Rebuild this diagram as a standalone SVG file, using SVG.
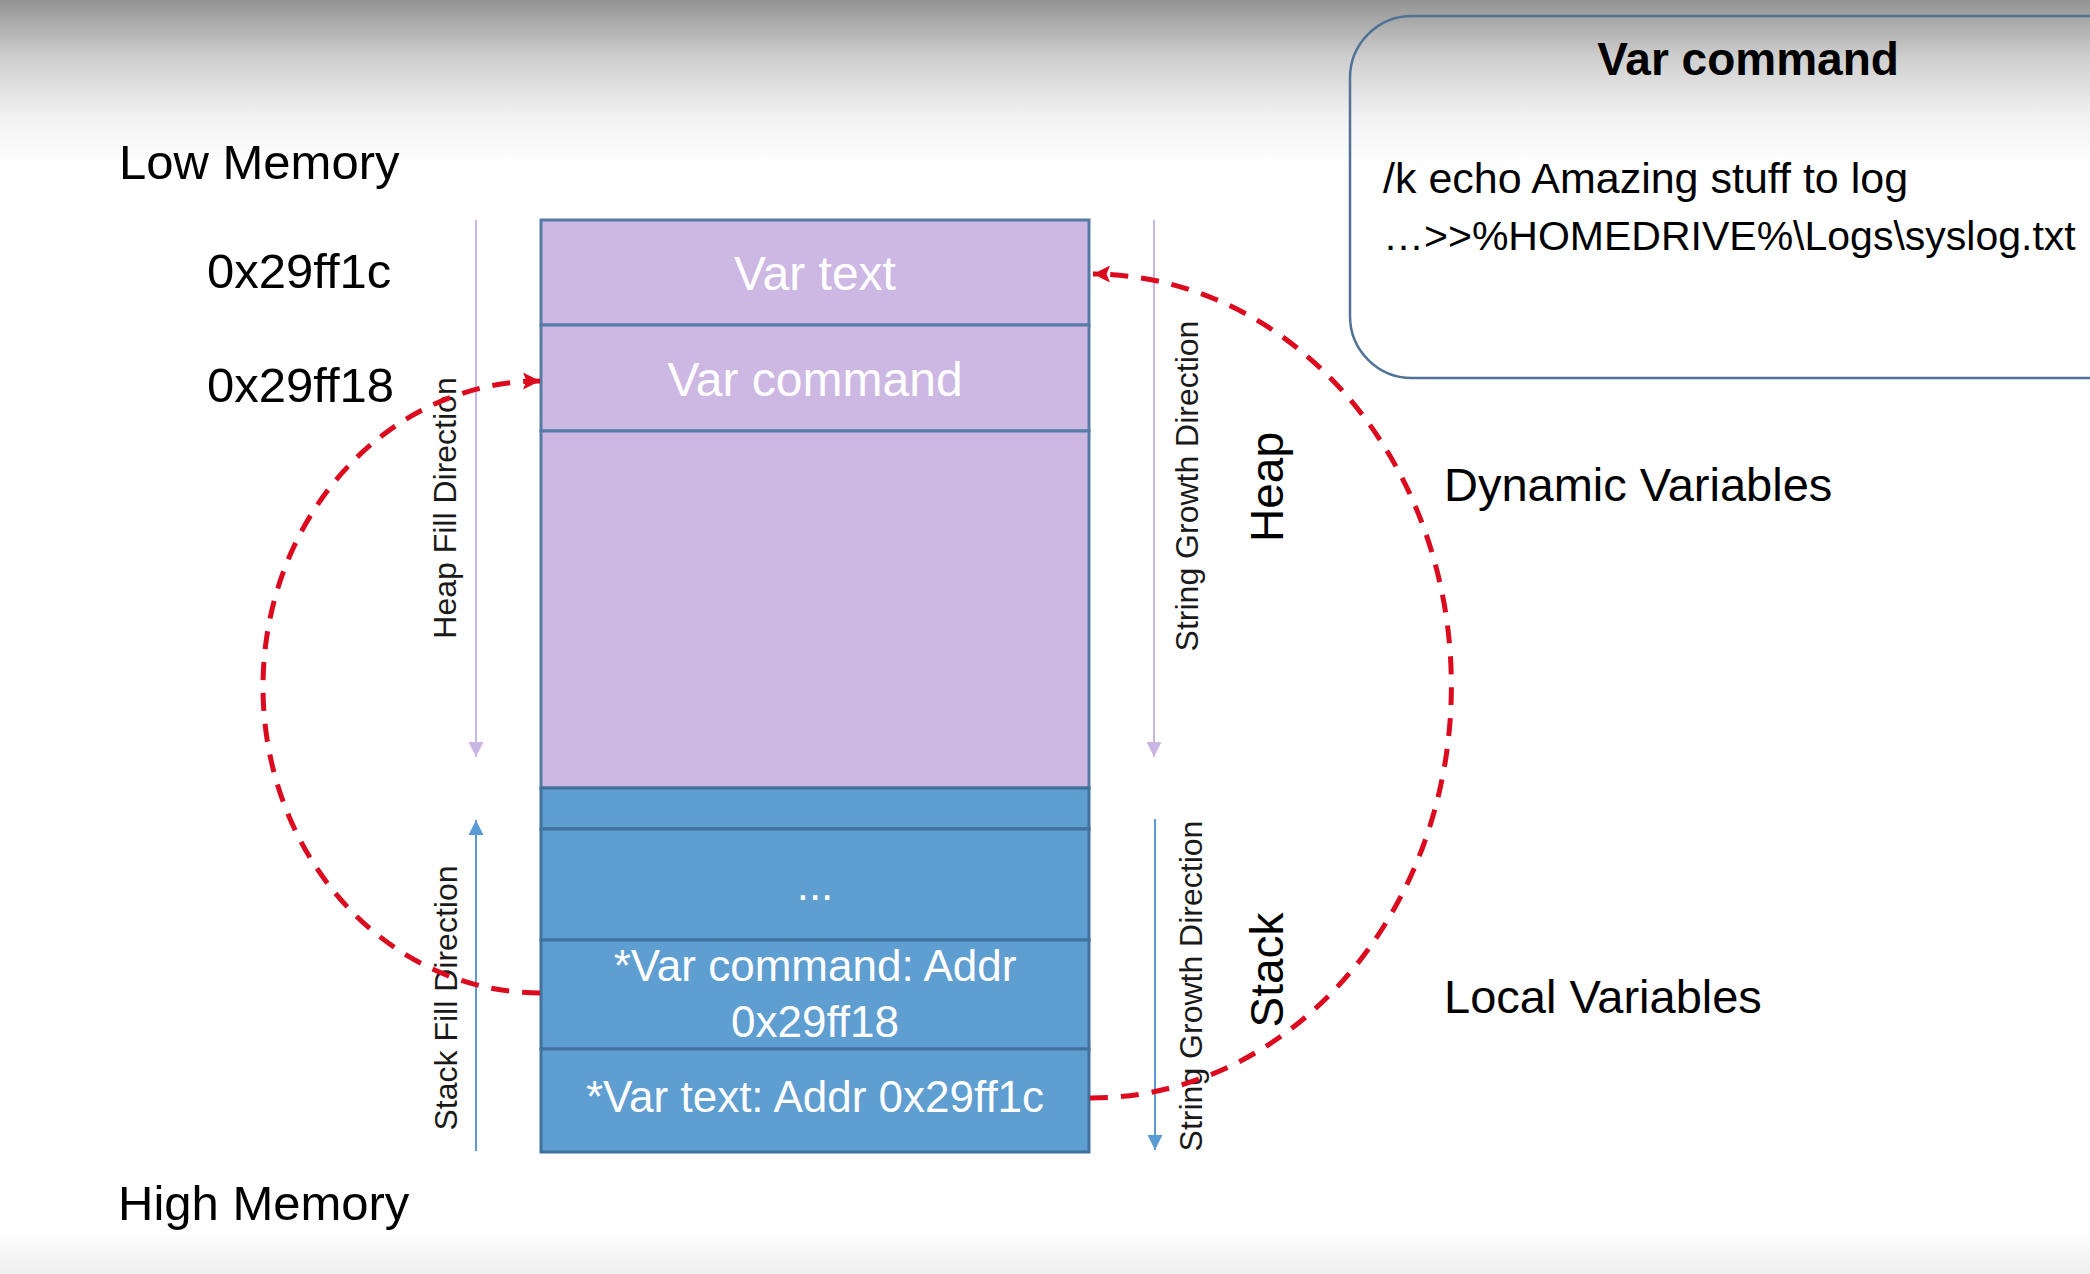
<svg xmlns="http://www.w3.org/2000/svg" width="2090" height="1274" viewBox="0 0 2090 1274">
  <defs>
    <linearGradient id="topbg" x1="0" y1="0" x2="0" y2="1">
      <stop offset="0" stop-color="#939393"/>
      <stop offset="0.35" stop-color="#cfcfcf"/>
      <stop offset="0.7" stop-color="#f1f1f1"/>
      <stop offset="1" stop-color="#ffffff"/>
    </linearGradient>
    <linearGradient id="botbg" x1="0" y1="0" x2="0" y2="1">
      <stop offset="0" stop-color="#ffffff"/>
      <stop offset="1" stop-color="#efefef"/>
    </linearGradient>
    <marker id="redhead" viewBox="0 0 10 10" refX="10" refY="5" markerWidth="17" markerHeight="17" markerUnits="userSpaceOnUse" orient="auto">
      <path d="M0,0 L10,5 L0,10 L2,5 z" fill="#dc0a1e"/>
    </marker>
    <marker id="lavhead" viewBox="0 0 10 10" refX="10" refY="5" markerWidth="15" markerHeight="16" markerUnits="userSpaceOnUse" orient="auto">
      <path d="M0,0 L10,5 L0,10 z" fill="#c9b6e3"/>
    </marker>
    <marker id="bluehead" viewBox="0 0 10 10" refX="10" refY="5" markerWidth="15" markerHeight="16" markerUnits="userSpaceOnUse" orient="auto">
      <path d="M0,0 L10,5 L0,10 z" fill="#5b9bd5"/>
    </marker>
  </defs>
  <style>
    .lbl { font-family: "Liberation Sans", Arial, sans-serif; fill: #000000; }
    .big { font-size: 49px; }
    .side { font-size: 47px; }
    .cell { font-family: "Liberation Sans", Arial, sans-serif; fill: #ffffff; text-anchor: middle; }
    .rot { font-family: "Liberation Sans", Arial, sans-serif; font-size: 32px; fill: #1a1a1a; text-anchor: middle; }
    .rotbig { font-family: "Liberation Sans", Arial, sans-serif; font-size: 46px; fill: #000000; text-anchor: middle; }
    .heap { fill: #cdb7e3; stroke: #557aa5; stroke-width: 3; }
    .stack { fill: #5f9ed1; stroke: #41719c; stroke-width: 3; }
    .lav { stroke: #c9b6e3; stroke-width: 2; fill: none; }
    .blu { stroke: #5b9bd5; stroke-width: 2; fill: none; }
    .dash { stroke: #dc0a1e; stroke-width: 5; fill: none; stroke-dasharray: 18 13; }
  </style>

  <rect x="0" y="0" width="2090" height="1274" fill="#ffffff"/>
  <rect x="0" y="0" width="2090" height="165" fill="url(#topbg)"/>
  <rect x="0" y="1230" width="2090" height="44" fill="url(#botbg)"/>

  <g id="memory-labels">
    <text class="lbl big" x="119" y="179">Low Memory</text>
    <text class="lbl big" x="118" y="1220">High Memory</text>
    <text class="lbl big" x="207" y="288" font-size="48">0x29ff1c</text>
    <text class="lbl big" x="207" y="402" font-size="48">0x29ff18</text>
  </g>

  <g id="heap-var-text">
    <rect class="heap" x="541" y="220" width="548" height="105"/>
    <text class="cell" x="815" y="290" font-size="48">Var text</text>
  </g>
  <g id="heap-var-command">
    <rect class="heap" x="541" y="325" width="548" height="106"/>
    <text class="cell" x="815" y="396" font-size="48">Var command</text>
  </g>
  <g id="heap-free">
    <rect class="heap" x="541" y="431" width="548" height="357"/>
  </g>
  <g id="stack-top">
    <rect class="stack" x="541" y="788" width="548" height="41"/>
  </g>
  <g id="stack-ellipsis">
    <rect class="stack" x="541" y="829" width="548" height="111"/>
    <text class="cell" x="815" y="900" font-size="44">...</text>
  </g>
  <g id="stack-ptr-command">
    <rect class="stack" x="541" y="940" width="548" height="109"/>
    <text class="cell" x="815" y="981" font-size="44">*Var command: Addr</text>
    <text class="cell" x="815" y="1037" font-size="44">0x29ff18</text>
  </g>
  <g id="stack-ptr-text">
    <rect class="stack" x="541" y="1049" width="548" height="103"/>
    <text class="cell" x="815" y="1112" font-size="44">*Var text: Addr 0x29ff1c</text>
  </g>

  <g id="direction-labels">
    <text class="rot" transform="translate(456,508) rotate(-90)">Heap Fill Direction</text>
    <text class="rot" transform="translate(457,998) rotate(-90)">Stack Fill Direction</text>
    <text class="rot" transform="translate(1198,486) rotate(-90)">String Growth Direction</text>
    <text class="rot" transform="translate(1202,986) rotate(-90)">String Growth Direction</text>
  </g>

  <g id="region-heap">
    <text class="rotbig" transform="translate(1283,487) rotate(-90)">Heap</text>
  </g>
  <g id="region-stack">
    <text class="rotbig" transform="translate(1283,970) rotate(-90)">Stack</text>
  </g>
  <g id="dynamic-variables">
    <text class="lbl side" x="1444" y="501">Dynamic Variables</text>
  </g>
  <g id="local-variables">
    <text class="lbl side" x="1444" y="1013">Local Variables</text>
  </g>

  <g id="var-command-box">
    <rect x="1350" y="16" width="800" height="362" rx="62" ry="62" fill="none" stroke="#4f7296" stroke-width="2.5"/>
    <text class="lbl" x="1748" y="75" font-size="46" font-weight="bold" text-anchor="middle">Var command</text>
    <text class="lbl" x="1383" y="193" font-size="43">/k echo Amazing stuff to log</text>
    <text class="lbl" x="1383" y="250" font-size="41">…&gt;&gt;%HOMEDRIVE%\Logs\syslog.txt</text>
  </g>

  <g id="connectors">
    <line class="lav" x1="476" y1="220" x2="476" y2="757" marker-end="url(#lavhead)"/>
    <line class="lav" x1="1154" y1="220" x2="1154" y2="757" marker-end="url(#lavhead)"/>
    <line class="blu" x1="476" y1="1151" x2="476" y2="820" marker-end="url(#bluehead)"/>
    <line class="blu" x1="1155" y1="819" x2="1155" y2="1150" marker-end="url(#bluehead)"/>
    <path class="dash" d="M 540 993 A 277 306 0 0 1 540 381" marker-end="url(#redhead)"/>
    <path class="dash" d="M 1090 1098 A 360 412 0 0 0 1093 274" marker-end="url(#redhead)"/>
  </g>
</svg>
